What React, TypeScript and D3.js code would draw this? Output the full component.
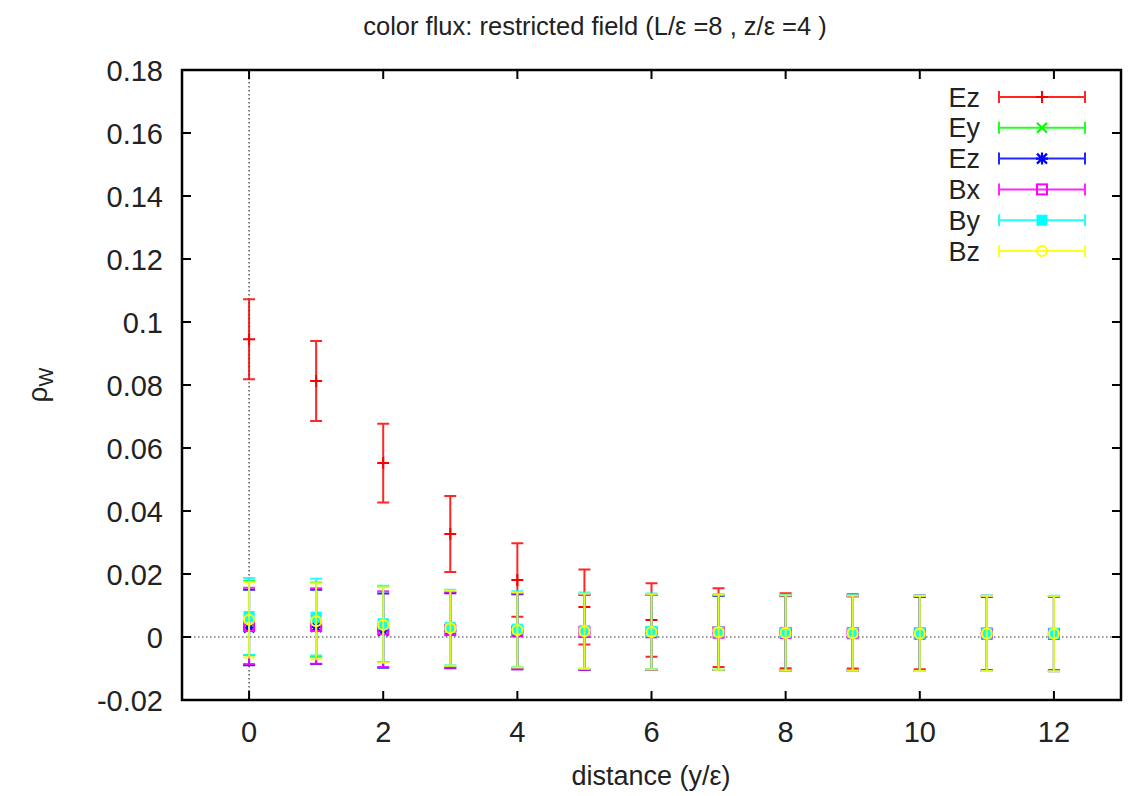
import React from 'react';
import * as d3 from 'd3';

// distance y/eps
const xs = [0, 1, 2, 3, 4, 5, 6, 7, 8, 9, 10, 11, 12];

// series values and errors
const ezRed = [0.0945, 0.0813, 0.0552, 0.0327, 0.0181, 0.0095, 0.0054, 0.0030, 0.0020, 0.0018, 0.0015, 0.0013, 0.0012];
const ezRedErr = [0.0127, 0.0127, 0.0125, 0.0121, 0.0117, 0.0119, 0.0117, 0.0125, 0.0119, 0.0118, 0.0117, 0.0118, 0.0117];
const ey = [0.0060, 0.0055, 0.0040, 0.0025, 0.0020, 0.0016, 0.0015, 0.0014, 0.0012, 0.0012, 0.0010, 0.0010, 0.0010];
const eyErr = [0.0118, 0.0118, 0.0119, 0.0118, 0.0118, 0.0118, 0.0118, 0.0118, 0.0117, 0.0117, 0.0117, 0.0117, 0.0117];
const ezBlue = [0.0030, 0.0032, 0.0020, 0.0020, 0.0017, 0.0015, 0.0014, 0.0013, 0.0012, 0.0011, 0.0010, 0.0010, 0.0010];
const ezBlueErr = [0.0120, 0.0118, 0.0118, 0.0119, 0.0119, 0.0120, 0.0119, 0.0118, 0.0118, 0.0118, 0.0118, 0.0118, 0.0118];
const bx = [0.0035, 0.0035, 0.0025, 0.0022, 0.0018, 0.0016, 0.0015, 0.0014, 0.0013, 0.0012, 0.0011, 0.0011, 0.0010];
const bxErr = [0.0121, 0.0120, 0.0120, 0.0120, 0.0120, 0.0120, 0.0119, 0.0119, 0.0119, 0.0119, 0.0119, 0.0119, 0.0119];
const by = [0.0065, 0.0063, 0.0042, 0.0030, 0.0025, 0.0020, 0.0018, 0.0016, 0.0014, 0.0013, 0.0012, 0.0012, 0.0011];
const byErr = [0.0122, 0.0122, 0.0121, 0.0120, 0.0120, 0.0121, 0.0120, 0.0120, 0.0120, 0.0120, 0.0120, 0.0120, 0.0120];
const bz = [0.0055, 0.0050, 0.0038, 0.0028, 0.0022, 0.0018, 0.0016, 0.0015, 0.0013, 0.0012, 0.0011, 0.0011, 0.0010];
const bzErr = [0.0120, 0.0121, 0.0120, 0.0119, 0.0119, 0.0119, 0.0119, 0.0119, 0.0119, 0.0119, 0.0119, 0.0119, 0.0119];

const xTicks = [0, 2, 4, 6, 8, 10, 12];
const yTicks = [-0.02, 0, 0.02, 0.04, 0.06, 0.08, 0.1, 0.12, 0.14, 0.16, 0.18];

type Series = { name: string; color: string; marker: string; values: number[]; errs: number[] };

const series: Series[] = [
  { name: 'Ez', color: '#ff0000', marker: 'plus', values: ezRed, errs: ezRedErr },
  { name: 'Ey', color: '#00ff00', marker: 'cross', values: ey, errs: eyErr },
  { name: 'Ez', color: '#0000ff', marker: 'star', values: ezBlue, errs: ezBlueErr },
  { name: 'Bx', color: '#ff00ff', marker: 'square', values: bx, errs: bxErr },
  { name: 'By', color: '#00ffff', marker: 'fsquare', values: by, errs: byErr },
  { name: 'Bz', color: '#ffff00', marker: 'circle', values: bz, errs: bzErr },
];

const W = 1133;
const H = 796;
const left = 182, right = 1121, top = 70, bottom = 700;
const font = 'Liberation Sans, Arial, Helvetica, sans-serif';

const Marker = ({ kind, x, y, color }: { kind: string; x: number; y: number; color: string }) => {
  const s = 6;
  if (kind === 'plus')
    return <path d={`M${x - s},${y}H${x + s}M${x},${y - s}V${y + s}`} stroke={color} strokeWidth={2} />;
  if (kind === 'cross')
    return <path d={`M${x - 5},${y - 5}L${x + 5},${y + 5}M${x - 5},${y + 5}L${x + 5},${y - 5}`} stroke={color} strokeWidth={2.2} />;
  if (kind === 'star')
    return <path d={`M${x - 5},${y - 5}L${x + 5},${y + 5}M${x - 5},${y + 5}L${x + 5},${y - 5}M${x - s},${y}H${x + s}M${x},${y - s}V${y + s}`} stroke={color} strokeWidth={2.2} />;
  if (kind === 'square')
    return <rect x={x - 5} y={y - 5} width={10} height={10} fill="none" stroke={color} strokeWidth={2} />;
  if (kind === 'fsquare')
    return <rect x={x - 5} y={y - 5} width={10} height={10} fill={color} stroke={color} strokeWidth={1} />;
  return <circle cx={x} cy={y} r={5} fill="none" stroke={color} strokeWidth={2} />;
};

const yFmt = (t: number) => d3.format('~g')(t).replace('\u2212', '-');

export default function App() {
  const x = d3.scaleLinear().domain([-1, 13]).range([left, right]);
  const y = d3.scaleLinear().domain([-0.02, 0.18]).range([bottom, top]);
  const cap = 6;
  const tickLen = 9;

  return (
    <div style={{ position: 'absolute', left: 0, top: 0 }}>
      <svg width={W} height={H} style={{ display: 'block', background: '#fff' }}>
        {/* zero axes */}
        <line x1={x(0)} x2={x(0)} y1={top} y2={bottom} stroke="#333" strokeWidth={1.2} strokeDasharray="1.5,2.5" />
        <line x1={left} x2={right} y1={y(0)} y2={y(0)} stroke="#333" strokeWidth={1.2} strokeDasharray="1.5,2.5" />

        {/* error bars */}
        {series.map((s, si) => (
          <g key={si}>
            {xs.map((d, i) => {
              const cx = x(d);
              const y1 = y(s.values[i] + s.errs[i]);
              const y0 = y(s.values[i] - s.errs[i]);
              return (
                <g key={i}>
                  <path
                    d={`M${cx},${y1}V${y0}M${cx - cap},${y1}H${cx + cap}M${cx - cap},${y0}H${cx + cap}`}
                    stroke={s.color}
                    strokeWidth={2}
                    fill="none"
                    opacity={0.85}
                  />
                  <Marker kind={s.marker} x={cx} y={y(s.values[i])} color={s.color} />
                </g>
              );
            })}
          </g>
        ))}

        {/* frame and ticks */}
        <rect x={left} y={top} width={right - left} height={bottom - top} fill="none" stroke="#000" strokeWidth={2.5} />
        {xTicks.map((t) => (
          <g key={'x' + t}>
            <line x1={x(t)} x2={x(t)} y1={bottom} y2={bottom - tickLen} stroke="#000" strokeWidth={2} />
            <line x1={x(t)} x2={x(t)} y1={top} y2={top + tickLen} stroke="#000" strokeWidth={2} />
            <text x={x(t)} y={742} textAnchor="middle" fontFamily={font} fontSize={29} fill="#222">
              {t}
            </text>
          </g>
        ))}
        {yTicks.map((t) => (
          <g key={'y' + t}>
            <line x1={left} x2={left + tickLen} y1={y(t)} y2={y(t)} stroke="#000" strokeWidth={2} />
            <line x1={right} x2={right - tickLen} y1={y(t)} y2={y(t)} stroke="#000" strokeWidth={2} />
            <text x={163} y={y(t) + 10.5} textAnchor="end" fontFamily={font} fontSize={29} fill="#222">
              {yFmt(t)}
            </text>
          </g>
        ))}

        {/* legend */}
        {series.map((s, i) => {
          const ly = 97 + i * 30.8;
          const x0 = 999, x1 = 1085;
          return (
            <g key={'l' + i}>
              <text x={980} y={ly + 9.5} textAnchor="end" fontFamily={font} fontSize={27} fill="#222">
                {s.name}
              </text>
              <path
                d={`M${x0},${ly}H${x1}M${x0},${ly - cap}V${ly + cap}M${x1},${ly - cap}V${ly + cap}`}
                stroke={s.color}
                strokeWidth={2}
                fill="none"
                opacity={0.85}
              />
              <Marker kind={s.marker} x={1042} y={ly} color={s.color} />
            </g>
          );
        })}

        {/* titles */}
        <text x={595} y={35} textAnchor="middle" fontFamily={font} fontSize={25.5} fill="#222">
          color flux: restricted field (L/ε =8 , z/ε =4 )
        </text>
        <text x={651} y={785} textAnchor="middle" fontFamily={font} fontSize={27} fill="#222">
          distance (y/ε)
        </text>
        <text transform="translate(47,385) rotate(-90)" textAnchor="middle" fontFamily={font} fontSize={28} fill="#222">
          ρ<tspan fontSize={20} dy={6}>W</tspan>
        </text>
      </svg>
    </div>
  );
}
